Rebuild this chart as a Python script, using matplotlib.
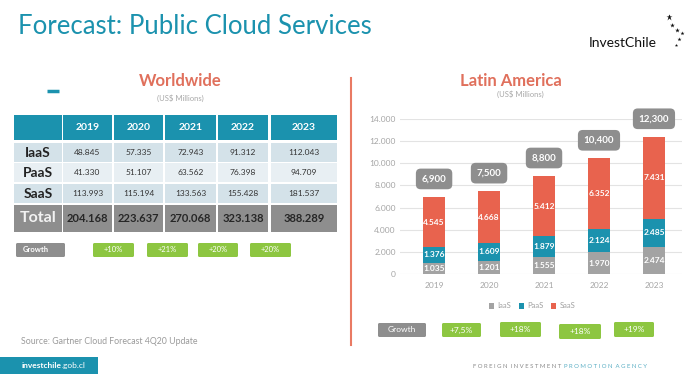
import matplotlib.pyplot as plt
from matplotlib.patches import Rectangle, FancyBboxPatch
from matplotlib.ticker import FuncFormatter

years = ['2019', '2020', '2021', '2022', '2023']

# Worldwide table (US$ millions, as printed on the slide)
ww_rows = ['IaaS', 'PaaS', 'SaaS']
ww_iaas = [48.845, 57.335, 72.943, 91.312, 112.043]
ww_paas = [41.330, 51.107, 63.562, 76.398, 94.709]
ww_saas = [113.993, 115.194, 133.563, 155.428, 181.537]
ww_total = [204.168, 223.637, 270.068, 323.138, 388.289]
ww_growth = ['+10%', '+21%', '+20%', '+20%']

# Latin America stacked bars
la_iaas = [1035, 1201, 1555, 1970, 2474]
la_paas = [1376, 1609, 1879, 2124, 2485]
la_saas = [4545, 4668, 5412, 6352, 7431]
la_total = [6900, 7500, 8800, 10400, 12300]
la_growth = ['+7,5%', '+18%', '+18%', '+19%']

TEAL = '#1b92ae'
RED = '#e8634e'
TITLE_RED = '#e0705c'
BAR_GRAY = '#a3a3a3'
BOX_GRAY = '#8e8e8e'
GREEN = '#8dc641'
LIGHT = '#d4e2e9'
LIGHTER = '#e8eff3'

plt.rcParams['font.family'] = ['Lato', 'DejaVu Sans']

fig = plt.figure(figsize=(7, 3.86), dpi=100)
fig.patch.set_facecolor('white')

# full-figure axes in pixel coords for the slide decoration
bg = fig.add_axes([0, 0, 1, 1])
bg.set_xlim(0, 700)
bg.set_ylim(386, 0)
bg.axis('off')


def rbox(x0, y0, x1, y1, color, text, tx=None, ha='center', size=5.5, weight='bold'):
    bg.add_patch(FancyBboxPatch((x0, y0), x1 - x0, y1 - y0,
                                boxstyle='round,pad=0,rounding_size=1.5',
                                fc=color, ec='none'))
    if tx is None:
        tx = (x0 + x1) / 2
    bg.text(tx, (y0 + y1) / 2, text, ha=ha, va='center', color='white',
            fontsize=size, fontweight=weight)


# header
bg.text(18, 27, 'Forecast: Public Cloud Services', color=TEAL, fontsize=18.5,
        va='center', ha='left')
bg.text(589, 43, 'InvestChile', color='#111111', fontsize=10, va='center', ha='left')
for sx, sy, ss in [(669, 17, 5), (672, 25, 3.5), (677, 30, 3.5), (682, 33, 3), (679, 39, 3), (676, 45, 2.5)]:
    bg.plot(sx, sy, marker='*', color='#111111', markersize=ss, mec='none')

# left panel
bg.plot([47, 59], [91, 91], color=TEAL, lw=2.5, solid_capstyle='butt')
bg.text(180, 81, 'Worldwide', color=TITLE_RED, fontsize=12, fontweight='bold',
        ha='center', va='center')
bg.text(180, 98, '(US$ Millions)', color='#a8a8a8', fontsize=5.5, ha='center', va='center')

col_edges = [(14, 62), (63, 112), (114, 163), (165, 216), (218, 268), (271, 337)]
row_edges = [(115, 140), (143, 162), (163, 182), (184, 203), (205, 232)]

table_rows = [ww_iaas, ww_paas, ww_saas]
row_colors = [LIGHT, LIGHTER, LIGHT]

for j, (x0, x1) in enumerate(col_edges):
    y0, y1 = row_edges[0]
    bg.add_patch(Rectangle((x0, y0), x1 - x0, y1 - y0, fc=TEAL, ec='none'))
    if j > 0:
        bg.text((x0 + x1) / 2, (y0 + y1) / 2, years[j - 1], color='white',
                fontsize=7.5, fontweight='bold', ha='center', va='center')

for i, (name, vals) in enumerate(zip(ww_rows, table_rows)):
    y0, y1 = row_edges[i + 1]
    for j, (x0, x1) in enumerate(col_edges):
        bg.add_patch(Rectangle((x0, y0), x1 - x0, y1 - y0, fc=row_colors[i], ec='none'))
        if j == 0:
            bg.text((x0 + x1) / 2, (y0 + y1) / 2 + 0.5, name, color='#222222',
                    fontsize=10, fontweight='bold', ha='center', va='center')
        else:
            bg.text((x0 + x1) / 2, (y0 + y1) / 2, f'{vals[j - 1]:.3f}', color='#333333',
                    fontsize=6, ha='center', va='center')

y0, y1 = row_edges[4]
for j, (x0, x1) in enumerate(col_edges):
    bg.add_patch(Rectangle((x0, y0), x1 - x0, y1 - y0, fc=BOX_GRAY, ec='none'))
    if j == 0:
        bg.text((x0 + x1) / 2, (y0 + y1) / 2, 'Total', color='#f2f2f2',
                fontsize=11.5, fontweight='bold', ha='center', va='center')
    else:
        bg.text((x0 + x1) / 2, (y0 + y1) / 2, f'{ww_total[j - 1]:.3f}', color='#262626',
                fontsize=8, fontweight='bold', ha='center', va='center')

rbox(16, 243, 65, 257, BOX_GRAY, 'Growth', tx=23, ha='left')
for (x0, x1), g in zip([(93, 134), (147, 188), (198, 238), (250, 291)], ww_growth):
    rbox(x0, 243, x1, 257, GREEN, g, weight='normal')

bg.text(21, 341, 'Source: Gartner Cloud Forecast 4Q20 Update', color='#9a9a9a',
        fontsize=6.3, ha='left', va='center')

bg.add_patch(Rectangle((0, 357), 98, 17, fc=TEAL, ec='none'))
t = bg.text(22, 365.5, 'investchile', color='white', fontsize=6, fontweight='bold',
            ha='left', va='center')
bg.annotate('.gob.cl', xycoords=t, xy=(1, 0.5), va='center', ha='left',
            color='white', fontsize=6)

# divider
bg.plot([351, 351], [78, 345], color='#e97a63', lw=1.5)

# right panel
bg.text(511, 81, 'Latin America', color=TITLE_RED, fontsize=12, fontweight='bold',
        ha='center', va='center')
bg.text(520, 94, '(US$ Millions)', color='#a8a8a8', fontsize=5.5, ha='center', va='center')

ax = fig.add_axes([400 / 700, 1 - 274 / 386, 282 / 700, 155 / 386])
ax.patch.set_alpha(0)
x = range(len(years))
w = 0.4
b2 = [a + b for a, b in zip(la_iaas, la_paas)]
b3 = [a + b for a, b in zip(b2, la_saas)]
ax.bar(x, la_iaas, w, color=BAR_GRAY, label='IaaS', zorder=2)
ax.bar(x, la_paas, w, bottom=la_iaas, color=TEAL, label='PaaS', zorder=2)
ax.bar(x, la_saas, w, bottom=b2, color=RED, label='SaaS', zorder=2)

for i in x:
    for v, base in [(la_iaas[i], 0), (la_paas[i], la_iaas[i]), (la_saas[i], b2[i])]:
        ax.text(i, base + v / 2, f'{v:,}'.replace(',', '.'), color='white',
                fontsize=6, fontweight='bold', ha='center', va='center', zorder=3)
    ax.annotate(f'{la_total[i]:,}', xy=(i, b3[i]), xytext=(0, 13), textcoords='offset points',
                ha='center', va='center', color='white', fontsize=7, fontweight='bold',
                bbox=dict(boxstyle='round,pad=0.6,rounding_size=0.5', fc=BOX_GRAY, ec='none'),
                annotation_clip=False)

ax.set_ylim(0, 14000)
ax.set_xlim(-0.62, 4.51)
ax.set_yticks(range(0, 14001, 2000))
ax.yaxis.set_major_formatter(FuncFormatter(lambda v, p: f'{int(v):,}'.replace(',', '.')))
ax.set_xticks(list(x))
ax.set_xticklabels(years)
ax.tick_params(length=0, labelsize=6, colors='#a5a5a5', pad=6)
ax.tick_params(axis='y', pad=3)
ax.grid(axis='y', color='#e3e3e3', lw=0.8, zorder=0)
for s in ax.spines.values():
    s.set_visible(False)
ax.legend(ncol=3, frameon=False, loc='center', bbox_to_anchor=(532 / 700, 1 - 306 / 386),
          bbox_transform=fig.transFigure, fontsize=5.5, handlelength=0.7, handleheight=0.7,
          columnspacing=1.0, handletextpad=0.4, labelcolor='#a0a0a0')

rbox(378, 323, 426, 337, BOX_GRAY, 'Growth', size=6, weight='normal')
for (x0, y0, x1, y1), g in zip([(442, 323, 481, 337), (500, 322, 541, 337),
                                (559, 324, 601, 339), (614, 322, 654, 337)], la_growth):
    rbox(x0, y0, x1, y1, GREEN, g, size=6, weight='normal')

# footer tagline
spaced = lambda s: '  '.join(' '.join(wd) for wd in s.split())
t2 = bg.text(473, 367, spaced('FOREIGN INVESTMENT') + '  ', color='#8a8a8a', fontsize=4.3,
             ha='left', va='center')
bg.annotate(spaced('PROMOTION AGENCY'), xycoords=t2, xy=(1, 0.5), va='center', ha='left',
            color='#5aaec4', fontsize=4.3)

fig.savefig('out.png', dpi=100, facecolor='white')
